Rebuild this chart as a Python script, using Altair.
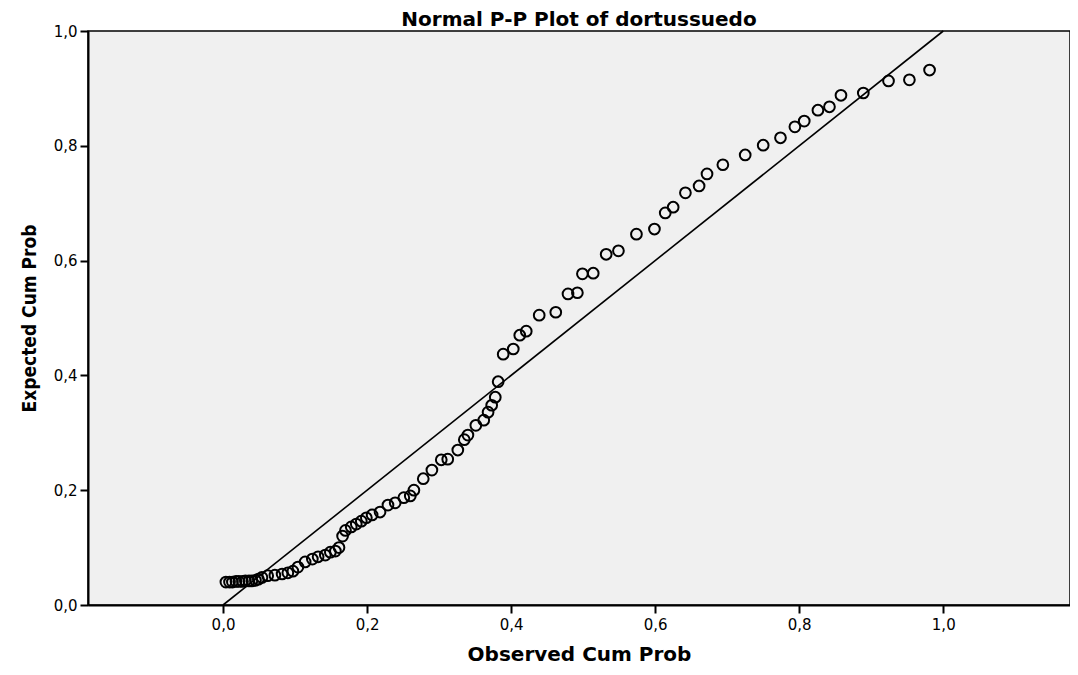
import altair as alt
import pandas as pd

obs = [0.004, 0.009, 0.013, 0.018, 0.022, 0.027, 0.031, 0.036, 0.040, 0.045,
       0.049, 0.054, 0.062, 0.072, 0.082, 0.090, 0.097, 0.104, 0.114, 0.124,
       0.132, 0.142, 0.149, 0.156, 0.161, 0.166, 0.170, 0.178, 0.185, 0.192,
       0.199, 0.207, 0.218, 0.229, 0.239, 0.251, 0.260, 0.265, 0.278, 0.290,
       0.303, 0.312, 0.326, 0.335, 0.340, 0.351, 0.362, 0.368, 0.373, 0.378,
       0.382, 0.389, 0.403, 0.412, 0.421, 0.439, 0.462, 0.479, 0.492, 0.499,
       0.514, 0.532, 0.549, 0.574, 0.599, 0.614, 0.625, 0.642, 0.661, 0.672,
       0.694, 0.725, 0.750, 0.774, 0.794, 0.807, 0.826, 0.842, 0.858, 0.889,
       0.924, 0.953, 0.981]
exp = [0.040, 0.040, 0.040, 0.041, 0.041, 0.041, 0.042, 0.042, 0.042, 0.043,
       0.045, 0.048, 0.051, 0.052, 0.054, 0.056, 0.059, 0.066, 0.075, 0.080,
       0.084, 0.087, 0.092, 0.094, 0.100, 0.120, 0.130, 0.136, 0.141, 0.146,
       0.152, 0.157, 0.162, 0.174, 0.178, 0.187, 0.190, 0.200, 0.220, 0.235,
       0.253, 0.254, 0.270, 0.288, 0.296, 0.313, 0.322, 0.336, 0.348, 0.362,
       0.389, 0.437, 0.446, 0.470, 0.477, 0.505, 0.510, 0.542, 0.544, 0.577,
       0.578, 0.611, 0.617, 0.646, 0.655, 0.683, 0.693, 0.718, 0.730, 0.751,
       0.767, 0.784, 0.801, 0.814, 0.833, 0.843, 0.862, 0.868, 0.888, 0.892,
       0.913, 0.915, 0.932]

ref_x = [0.0, 1.0]
ref_y = [0.0, 1.0]
ticks = [0.0, 0.2, 0.4, 0.6, 0.8, 1.0]

pts = pd.DataFrame({"obs": obs, "exp": exp})
ref = pd.DataFrame({"obs": ref_x, "exp": ref_y})

label_font = "DejaVu Sans"
label_expr = "replace(format(datum.value, '.1f'), '.', ',')"

xscale = alt.Scale(domain=[-0.1875, 1.176], nice=False, zero=False)
yscale = alt.Scale(domain=[0, 1], nice=False)

xaxis = alt.Axis(values=ticks, labelExpr=label_expr, grid=False,
                 title="Observed Cum Prob", titleFont="DejaVu Sans",
                 titleFontSize=20, titleFontWeight="bold", titleColor="black",
                 titlePadding=12,
                 labelFont=label_font, labelFontSize=15, labelColor="black",
                 labelPadding=4, tickSize=8, tickWidth=2, tickColor="black",
                 domainColor="black", domainWidth=2)
yaxis = alt.Axis(values=ticks, labelExpr=label_expr, grid=False,
                 title="Expected Cum Prob", titleFont="DejaVu Sans Condensed",
                 titleFontSize=19, titleFontWeight="bold", titleColor="black",
                 titlePadding=14,
                 labelFont=label_font, labelFontSize=15, labelColor="black",
                 labelPadding=3, tickSize=8, tickWidth=2, tickColor="black",
                 domainColor="black", domainWidth=2)

points = alt.Chart(pts).mark_point(shape="circle", filled=False, size=115,
                                   color="black", strokeWidth=2, opacity=1).encode(
    x=alt.X("obs:Q", scale=xscale, axis=xaxis),
    y=alt.Y("exp:Q", scale=yscale, axis=yaxis),
)

line = alt.Chart(ref).mark_line(color="black", strokeWidth=1.6).encode(
    x=alt.X("obs:Q", scale=xscale),
    y=alt.Y("exp:Q", scale=yscale),
)

chart = alt.layer(line, points).properties(
    width=982, height=574,
    background="white",
    title=alt.TitleParams("Normal P-P Plot of dortussuedo", font="DejaVu Sans",
                          fontSize=20, fontWeight="bold", color="black",
                          anchor="middle", offset=-6),
    autosize=alt.AutoSizeParams(type="none"),
    padding={"left": 80, "top": 23, "right": 0, "bottom": 68},
).configure_view(
    fill="#f0f0f0", stroke="black", strokeWidth=1.5
)

chart.save("out.html", embed_options={"renderer": "svg", "actions": False})
